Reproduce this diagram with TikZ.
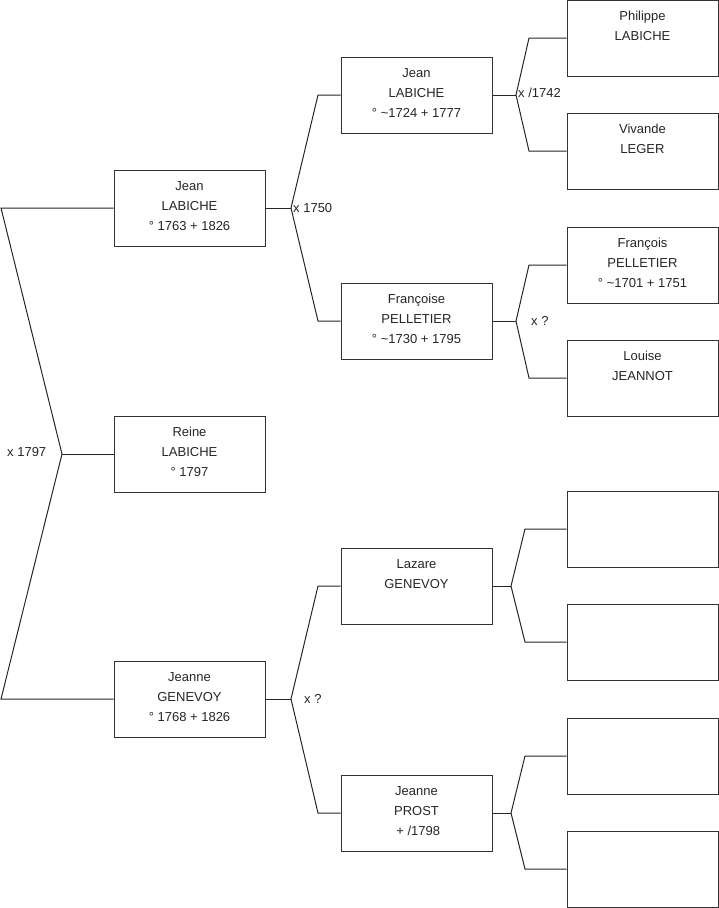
\documentclass[tikz,border=0pt]{standalone}
\usepackage{fontspec}
\setmainfont{Liberation Sans}
\begin{document}
\begin{tikzpicture}[x=1pt,y=-1pt,
  person/.style={draw=black!80,line width=1pt,rectangle,minimum width=151pt,minimum height=76pt,inner sep=0pt,fill=white},
  txt/.style={inner sep=0pt,font=\fontsize{13}{15}\selectfont,text=black!85},
  link/.style={draw=black!85,line width=1pt},
  lab/.style={inner sep=0pt,anchor=west,font=\fontsize{13}{15}\selectfont,text=black!85}]
\useasboundingbox (0,0) rectangle (719,908);
\newcommand{\pers}[6]{%
  \node[person] (#1) at (#2,#3) {};
  \node[txt,anchor=base] at ([yshift=-21pt]#1.north) {#4};
  \node[txt,anchor=base] at ([yshift=-41pt]#1.north) {#5};
  \node[txt,anchor=base] at ([yshift=-61pt]#1.north) {#6};}
% level 1
\pers{jeanA}{189.5}{208}{Jean}{LABICHE}{° 1763 + 1826}
\pers{reine}{189.5}{454}{Reine}{LABICHE}{° 1797}
\pers{jeanneG}{189.5}{699}{Jeanne}{GENEVOY}{° 1768 + 1826}
% level 2
\pers{jeanB}{416.5}{95}{Jean}{LABICHE}{° \textasciitilde1724 + 1777}
\pers{francoise}{416.5}{321}{Françoise}{PELLETIER}{° \textasciitilde1730 + 1795}
\pers{lazare}{416.5}{586}{Lazare}{GENEVOY}{}
\pers{jeanneP}{416.5}{813}{Jeanne}{PROST}{\ + /1798}
% level 3
\pers{philippe}{642.5}{38}{Philippe}{LABICHE}{}
\pers{vivande}{642.5}{151}{Vivande}{LEGER}{}
\pers{francois}{642.5}{265}{François}{PELLETIER}{° \textasciitilde1701 + 1751}
\pers{louise}{642.5}{378}{Louise}{JEANNOT}{}
\node[person] (e1) at (642.5,529) {};
\node[person] (e2) at (642.5,642) {};
\node[person] (e3) at (642.5,756) {};
\node[person] (e4) at (642.5,869) {};
% fork coordinates
\coordinate (v0) at (62,454);
\coordinate (v0a) at (1,208);
\coordinate (v0b) at (1,699);
\coordinate (v1) at (291,208);
\coordinate (v1a) at (318,95);
\coordinate (v1b) at (318,321);
\coordinate (v2) at (291,699);
\coordinate (v2a) at (318,586);
\coordinate (v2b) at (318,813);
\coordinate (v3) at (516,95);
\coordinate (v3a) at (529,38);
\coordinate (v3b) at (529,151);
\coordinate (v4) at (516,321);
\coordinate (v4a) at (529,265);
\coordinate (v4b) at (529,378);
\coordinate (v5) at (511,586);
\coordinate (v5a) at (525,529);
\coordinate (v5b) at (525,642);
\coordinate (v6) at (511,813);
\coordinate (v6a) at (525,756);
\coordinate (v6b) at (525,869);
% connectors
\draw[link] (jeanA.west) -- (v0a) -- (v0) -- (v0b) -- (jeanneG.west);
\draw[link] (v0) -- (reine.west);
\draw[link] (jeanA.east) -- (v1);
\draw[link] (jeanB.west) -- (v1a) -- (v1) -- (v1b) -- (francoise.west);
\draw[link] (jeanneG.east) -- (v2);
\draw[link] (lazare.west) -- (v2a) -- (v2) -- (v2b) -- (jeanneP.west);
\draw[link] (jeanB.east) -- (v3);
\draw[link] (philippe.west) -- (v3a) -- (v3) -- (v3b) -- (vivande.west);
\draw[link] (francoise.east) -- (v4);
\draw[link] (francois.west) -- (v4a) -- (v4) -- (v4b) -- (louise.west);
\draw[link] (lazare.east) -- (v5);
\draw[link] (e1.west) -- (v5a) -- (v5) -- (v5b) -- (e2.west);
\draw[link] (jeanneP.east) -- (v6);
\draw[link] (e3.west) -- (v6a) -- (v6) -- (v6b) -- (e4.west);
% labels
\node[lab] (l0) at (7,452) {x 1797};
\node[lab] (l1) at (293,208) {x 1750};
\node[lab] (l2) at (304,699) {x ?};
\node[lab] (l3) at (518,93) {x /1742};
\node[lab] (l4) at (531,321) {x ?};
\end{tikzpicture}
\end{document}
